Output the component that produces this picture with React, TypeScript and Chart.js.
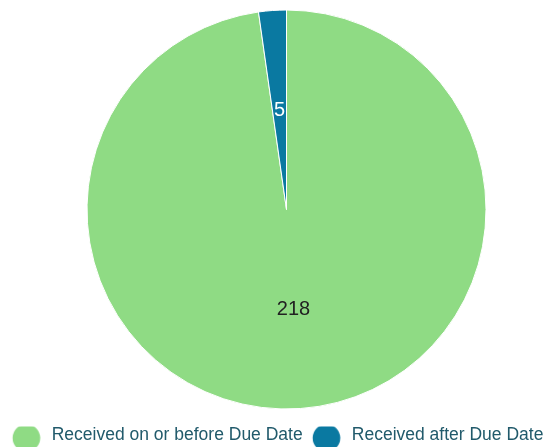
import React, { useEffect, useRef } from "react";
import { Chart, registerables } from "chart.js";

Chart.register(...registerables);

const categories = ["Received on or before Due Date", "Received after Due Date"];
const counts = [218, 5];
const sliceColors = ["#8fdb84", "#0a79a1"];
const labelColors = ["#222222", "#ffffff"];

function makeDot(color: string): HTMLCanvasElement {
  const c = document.createElement("canvas");
  c.width = 36;
  c.height = 40;
  const ctx = c.getContext("2d")!;
  ctx.fillStyle = color;
  ctx.beginPath();
  ctx.arc(21.6, 22.75, 13.8, 0, Math.PI * 2);
  ctx.fill();
  return c;
}

const sliceLabels = {
  id: "sliceLabels",
  afterDatasetsDraw(chart: any) {
    const ctx = chart.ctx;
    const meta = chart.getDatasetMeta(0);
    ctx.save();
    ctx.font = '20px "Liberation Sans", Arial, sans-serif';
    ctx.textAlign = "center";
    ctx.textBaseline = "middle";
    meta.data.forEach((arc: any, i: number) => {
      const p = arc.tooltipPosition();
      ctx.fillStyle = labelColors[i];
      ctx.fillText(String(counts[i]), p.x, p.y);
    });
    ctx.restore();
  },
};

const placeAreas = {
  id: "placeAreas",
  afterLayout(chart: any) {
    const a = chart.chartArea;
    a.left = 27;
    a.right = 546;
    a.top = 9.5;
    a.bottom = 409.5;
    a.width = a.right - a.left;
    a.height = a.bottom - a.top;
    const lg = chart.legend;
    if (lg) {
      lg.top += 7;
      lg.bottom += 7;
    }
  },
};

export default function App() {
  const ref = useRef<HTMLCanvasElement | null>(null);
  useEffect(() => {
    if (!ref.current) return;
    const dots = sliceColors.map(makeDot);
    const chart = new Chart(ref.current, {
      type: "pie",
      data: {
        labels: categories,
        datasets: [
          {
            data: counts,
            backgroundColor: sliceColors,
            borderColor: "#ffffff",
            borderWidth: 1,
          },
        ],
      },
      options: {
        animation: false,
        responsive: true,
        maintainAspectRatio: false,
        plugins: {
          tooltip: { enabled: false },
          legend: {
            position: "bottom",
            labels: {
              usePointStyle: true,
              pointStyleWidth: 40.35,
              padding: 0,
              color: "#215a6b",
              font: { size: 17.5, family: '"Liberation Sans", Arial, sans-serif' },
              generateLabels: (ch: any) => {
                const base = (Chart as any).overrides.pie.plugins.legend.labels.generateLabels(ch);
                return base.map((it: any, i: number) => ({ ...it, pointStyle: dots[i] }));
              },
            },
          },
        },
      },
      plugins: [placeAreas, sliceLabels],
    });
    return () => chart.destroy();
  }, []);
  return (
    <div style={{ position: "fixed", left: 0, top: 0, width: 546, height: 447, background: "#fff" }}>
      <canvas ref={ref} />
    </div>
  );
}
